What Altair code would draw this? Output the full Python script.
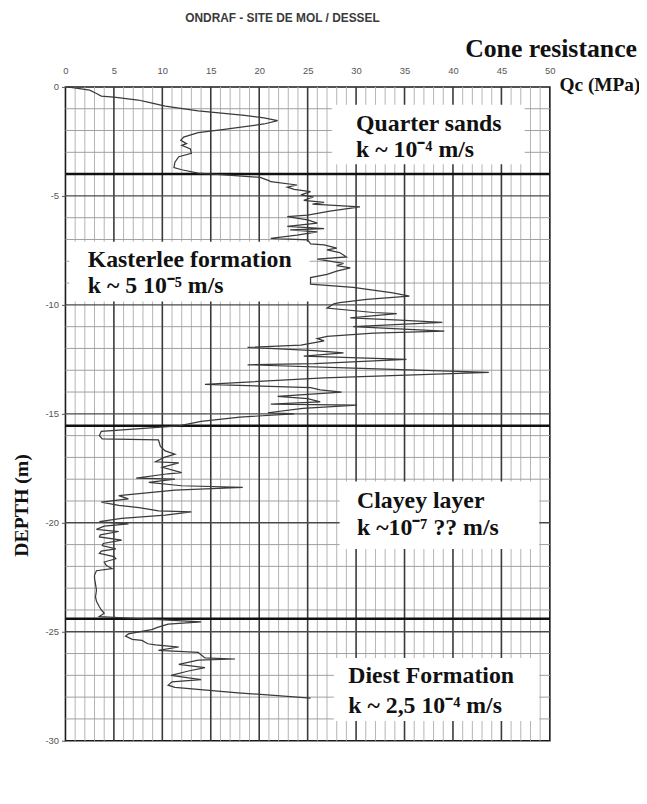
import altair as alt
import pandas as pd

# ---- CPT curve (depth in m below surface, Qc in MPa) ----
depth = [0.0, 0.15, 0.3, 0.42, 0.47, 0.6, 0.7, 0.88, 1.1, 1.3, 1.42, 1.55, 1.7, 1.95, 2.1, 2.3, 2.45, 2.6,
         2.68, 2.85, 3.05, 3.2, 3.45, 3.7, 3.8, 3.95, 4.03, 4.15, 4.3,
         4.35, 4.5, 4.6, 4.7, 4.8, 4.95, 5.05, 5.2, 5.3, 5.38, 5.5, 5.7, 5.88, 5.95, 6.1, 6.25, 6.4, 6.5,
         6.56, 6.65, 6.8, 6.95, 7.02, 7.2, 7.25, 7.4, 7.48, 7.6, 7.8, 7.9, 8.1, 8.2, 8.3, 8.45, 8.6, 8.75,
         9.05, 9.2, 9.45, 9.6, 9.75, 9.9, 9.95, 10.15, 10.35, 10.4, 10.6, 10.7, 10.8, 11.0, 11.2, 11.3,
         11.45, 11.55, 11.65, 11.85, 11.95, 12.1, 12.2, 12.35, 12.5, 12.7, 12.75, 12.9, 13.1, 13.35, 13.65,
         13.8, 13.9, 14.0, 14.2, 14.3, 14.45, 14.55, 14.6, 14.75, 14.95, 15.0, 15.15, 15.35, 15.55, 15.8,
         16.0, 16.15, 16.2, 16.5, 16.7, 16.85, 17.0, 17.2, 17.25, 17.45, 17.7, 17.75, 17.95, 18.0, 18.15,
         18.3, 18.38, 18.5, 18.75, 18.9, 19.05, 19.2, 19.3, 19.45, 19.5, 19.65, 19.8, 19.95, 20.05, 20.15,
         20.3, 20.4, 20.55, 20.65, 20.8, 20.95, 21.05, 21.2, 21.3, 21.4, 21.55, 21.65, 21.8, 21.95, 22.1,
         22.2, 22.4, 22.55, 22.8, 23.1, 23.4, 23.6, 23.85, 24.0, 24.15, 24.3,
         24.55, 24.65, 24.8, 24.9, 24.95, 25.1, 25.2, 25.35, 25.4, 25.55, 25.6, 25.7, 25.85, 25.95, 26.2,
         26.25, 26.3, 26.5, 26.65, 26.8, 27.0, 27.2, 27.3, 27.45, 27.55, 27.8, 28.05]
qc = [0.2, 2.5, 3.2, 3.7, 5.0, 7.5, 8.5, 10.3, 13.7, 18.5, 20.5, 21.9, 20.5, 16.4, 13.7, 12.2, 11.9, 12.5,
      12.0, 12.9, 13.0, 11.7, 11.3, 11.2, 12.0, 13.7, 16.4, 20.1, 21.0,
      21.2, 23.9, 22.9, 23.6, 25.3, 24.3, 25.6, 24.6, 26.7, 25.5, 30.4, 27.3, 25.0, 22.9, 25.0, 26.0, 22.9, 26.7,
      23.2, 26.0, 23.9, 21.2, 25.0, 25.3, 26.7, 28.0, 27.0, 28.3, 29.0, 26.0, 28.7, 28.0, 29.4, 28.0, 27.0, 25.3,
      25.3, 29.7, 33.8, 35.5, 31.1, 28.3, 27.7, 27.0, 31.8, 34.2, 29.4, 34.5, 38.9, 29.7, 39.1, 31.8,
      27.0, 26.0, 26.7, 24.3, 18.8, 25.7, 28.7, 24.6, 35.2, 25.7, 18.8, 29.7, 43.7, 26.7, 14.4,
      25.3, 26.3, 28.5, 21.9, 25.0, 26.3, 21.2, 30.1, 24.5, 20.9, 23.6, 18.0, 14.0, 11.7, 3.7,
      3.5, 3.8, 9.6, 9.8, 10.3, 11.3, 10.2, 9.3, 11.7, 10.0, 12.0, 10.6, 7.3, 11.3, 8.6,
      12.0, 18.3, 11.3, 5.5, 6.5, 3.7, 5.5, 7.6, 9.6, 13.0, 10.3, 5.8, 3.5, 6.5, 4.0,
      3.2, 5.5, 3.6, 3.5, 5.8, 3.9, 3.8, 5.2, 3.7, 3.5, 5.0, 5.2, 4.0, 4.2, 4.8,
      3.2, 3.0, 3.0, 3.1, 3.2, 3.1, 3.2, 3.5, 3.7, 4.0, 3.5,
      14.0, 10.6, 9.5, 8.9, 8.3, 6.5, 6.2, 6.9, 7.9, 8.5, 9.3, 11.7, 9.6, 13.7, 14.4,
      17.5, 13.7, 11.7, 14.4, 12.7, 10.9, 14.0, 11.0, 10.6, 11.3, 17.8, 25.3]

# ---- grid and layer boundaries ----
qc_minor = [v for v in range(1, 50) if v % 5 != 0]
qc_major = [5, 10, 15, 20, 25, 30, 35, 40, 45]
depth_minor = [-v for v in range(1, 30) if v % 5 != 0]
depth_major = [-5, -10, -15, -20, -25]
boundaries = [-4.0, -15.55, -24.4]
x_ticks = [0, 5, 10, 15, 20, 25, 30, 35, 40, 45, 50]
y_ticks = [0, -5, -10, -15, -20, -25, -30]

# ---- annotation boxes ----
box_x1 = [27.5, 0.4, 28.3, 27.7]
box_x2 = [47.4, 25.2, 48.9, 48.9]
box_y1 = [-0.82, -7.1, -18.1, -26.2]
box_y2 = [-3.55, -9.85, -21.2, -29.1]

box_text = ["Quarter sands", "k ~ 10\u207b\u2074 m/s",
            "Kasterlee formation", "k ~  5 10\u207b\u2075  m/s",
            "Clayey layer", "k ~10\u207b\u2077  ?? m/s",
            "Diest Formation", "k ~ 2,5 10\u207b\u2074  m/s"]
box_text_q = [30.0, 30.0, 2.3, 2.3, 30.1, 30.1, 29.2, 29.2]
box_text_d = [-1.7, -2.9, -7.95, -9.15, -19.0, -20.25, -27.05, -28.4]

X_SCALE = alt.Scale(domain=[0, 50], nice=False, zero=False)
Y_SCALE = alt.Scale(domain=[-30, 0], nice=False, zero=False)

X_AXIS = alt.Axis(orient="top", values=x_ticks, title=None, ticks=False, domain=False, grid=False,
                  labelFont="Liberation Sans", labelFontSize=9.5, labelColor="#555555",
                  labelPadding=12, labelFlush=False)
Y_AXIS = alt.Axis(orient="left", values=y_ticks, title="DEPTH (m)", ticks=True, tickSize=4,
                  tickColor="#555555", domain=False, grid=False,
                  labelExpr="'' + datum.value",
                  labelFont="Liberation Sans", labelFontSize=9.5, labelColor="#555555",
                  labelPadding=3, labelFlush=False,
                  titleFont="Liberation Serif", titleFontSize=20, titleFontWeight="bold",
                  titleColor="#111111", titleAngle=-90, titleX=-44, titleY=422,
                  titleAlign="center", titleBaseline="middle")


def X(field):
    return alt.X(field, scale=X_SCALE, axis=X_AXIS, title=None)


def Y(field):
    return alt.Y(field, scale=Y_SCALE, axis=Y_AXIS, title="DEPTH (m)")


curve_df = pd.DataFrame({"qc": qc, "depth": [-d for d in depth], "i": list(range(len(depth)))})


def vrules(vals, color, width):
    return alt.Chart(pd.DataFrame({"v": vals})).mark_rule(color=color, strokeWidth=width).encode(
        x=X("v:Q"))


def hrules(vals, color, width):
    return alt.Chart(pd.DataFrame({"v": vals})).mark_rule(color=color, strokeWidth=width).encode(
        y=Y("v:Q"))


minor_v = vrules(qc_minor, "#b4b4b4", 1)
minor_h = hrules(depth_minor, "#a0a0a0", 1)
major_v = vrules(qc_major, "#3a3a3a", 1.6)
major_h = hrules(depth_major, "#4a4a4a", 1.4)
bound_h = hrules(boundaries, "#111111", 2.5)

boxes = alt.Chart(pd.DataFrame({"x1": box_x1, "x2": box_x2, "y1": box_y1, "y2": box_y2})).mark_rect(
    color="white").encode(x=X("x1:Q"), x2="x2:Q", y=Y("y1:Q"), y2="y2:Q")

curve = alt.Chart(curve_df).mark_line(color="#3a3a3a", strokeWidth=1.25).encode(
    x=X("qc:Q"), y=Y("depth:Q"), order="i:Q")

labels = alt.Chart(pd.DataFrame({"t": box_text, "q": box_text_q, "d": box_text_d})).mark_text(
    font="Liberation Serif", fontSize=24, fontWeight="bold", color="#111111", align="left",
    baseline="middle").encode(x=X("q:Q"), y=Y("d:Q"), text="t:N")

head_text = ["Cone resistance"]
head = alt.Chart(pd.DataFrame({"t": head_text, "q": [59.0], "d": [1.75]})).mark_text(
    font="Liberation Serif", fontSize=26, fontWeight="bold", color="#111111", align="right",
    baseline="middle").encode(x=X("q:Q"), y=Y("d:Q"), text="t:N")

unit_text = ["Qc (MPa)"]
unit = alt.Chart(pd.DataFrame({"t": unit_text, "q": [51.0], "d": [0.1]})).mark_text(
    font="Liberation Serif", fontSize=19.5, fontWeight="bold", color="#111111", align="left",
    baseline="middle").encode(x=X("q:Q"), y=Y("d:Q"), text="t:N")

title_text = ["ONDRAF - SITE DE MOL / DESSEL"]
title = alt.Chart(pd.DataFrame({"t": title_text, "q": [22.4], "d": [3.14]})).mark_text(
    font="Liberation Sans", fontSize=12, fontWeight="bold", color="#3a3a3a", align="center",
    baseline="middle").encode(x=X("q:Q"), y=Y("d:Q"), text="t:N")

chart = alt.layer(minor_v, minor_h, major_v, major_h, boxes, bound_h, curve, labels, head, unit,
                  title).properties(
    width=489, height=660,
    background="white",
    autosize=alt.AutoSizeParams(type="none"),
    padding={"left": 58, "top": 76, "right": 90, "bottom": 40},
).configure_view(stroke="#1a1a1a", strokeWidth=1.6)

chart.save("out.html", embed_options={"renderer": "svg", "actions": False})
